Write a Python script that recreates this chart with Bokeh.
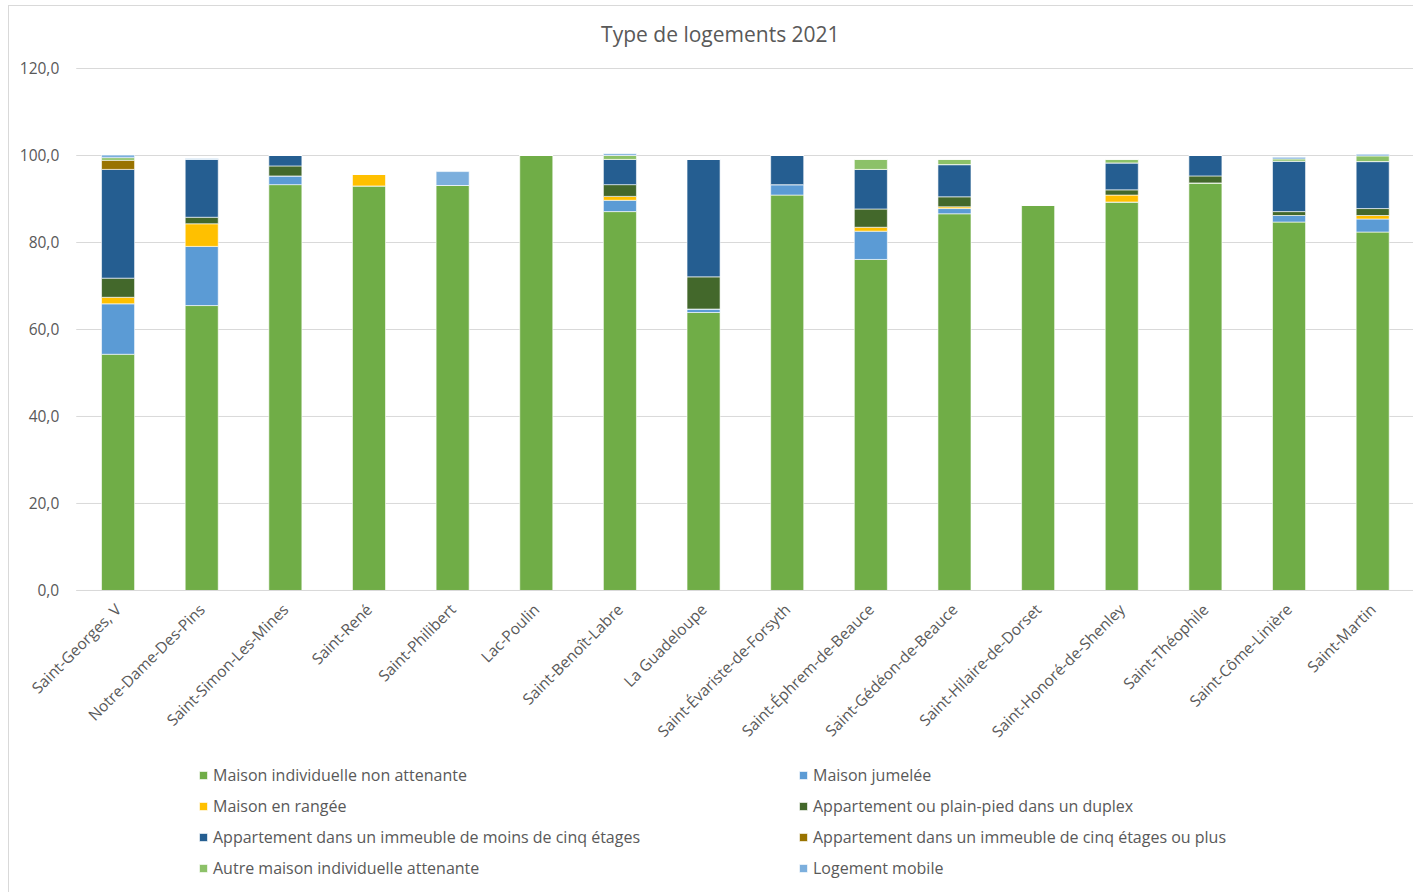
from math import pi
from bokeh.plotting import figure
from bokeh.models import Range1d, FixedTicker, CustomJSTickFormatter, Legend, LegendItem, Label
from bokeh.embed import file_html
from bokeh.resources import INLINE

municipalites = ["Saint-Georges, V", "Notre-Dame-Des-Pins", "Saint-Simon-Les-Mines", "Saint-René",
                 "Saint-Philibert", "Lac-Poulin", "Saint-Benoît-Labre", "La Guadeloupe",
                 "Saint-Évariste-de-Forsyth", "Saint-Éphrem-de-Beauce", "Saint-Gédéon-de-Beauce",
                 "Saint-Hilaire-de-Dorset", "Saint-Honoré-de-Shenley", "Saint-Théophile",
                 "Saint-Côme-Linière", "Saint-Martin"]

series_names = ["Maison individuelle non attenante", "Maison jumelée", "Maison en rangée",
                "Appartement ou plain-pied dans un duplex",
                "Appartement dans un immeuble de moins de cinq étages",
                "Appartement dans un immeuble de cinq étages ou plus",
                "Autre maison individuelle attenante", "Logement mobile"]

maison_non_attenante = [54.3, 65.5, 93.3, 93.0, 93.1, 100.0, 87.1, 63.9, 90.9, 76.1, 86.6, 88.6, 89.3, 93.7, 84.7, 82.4]
maison_jumelee       = [11.6, 13.6, 2.0, 0.0, 0.0, 0.0, 2.6, 0.8, 2.4, 6.5, 1.2, 0.0, 0.0, 0.0, 1.5, 3.0]
maison_rangee        = [1.5, 5.2, 0.0, 2.7, 0.0, 0.0, 0.9, 0.0, 0.0, 0.9, 0.4, 0.0, 1.6, 0.0, 0.0, 0.8]
app_duplex           = [4.4, 1.5, 2.3, 0.0, 0.0, 0.0, 2.7, 7.4, 0.0, 4.2, 2.3, 0.0, 1.2, 1.6, 0.9, 1.6]
app_moins_cinq       = [25.0, 13.3, 2.4, 0.0, 0.0, 0.0, 5.8, 27.0, 6.7, 9.1, 7.4, 0.0, 6.2, 4.7, 11.6, 10.8]
app_cinq_plus        = [2.1, 0.0, 0.0, 0.0, 0.0, 0.0, 0.0, 0.0, 0.0, 0.0, 0.0, 0.0, 0.0, 0.0, 0.0, 0.0]
autre_attenante      = [0.6, 0.0, 0.0, 0.0, 0.0, 0.0, 0.9, 0.0, 0.0, 2.3, 1.2, 0.0, 0.8, 0.0, 0.5, 1.3]
logement_mobile      = [0.6, 0.2, 0.0, 0.0, 3.2, 0.0, 0.4, 0.0, 0.0, 0.0, 0.0, 0.0, 0.0, 0.0, 0.4, 0.4]

y_ticks = [0, 20, 40, 60, 80, 100, 120]
titre = "Type de logements 2021"

colors = ["#70AD47", "#5B9BD5", "#FFC000", "#43682B", "#255E91", "#997300", "#8CC168", "#7CAFDD"]
keys = ["s0", "s1", "s2", "s3", "s4", "s5", "s6", "s7"]

n = len(municipalites)
positions = [i + 0.5 for i in range(n)]          # category slots on a numeric axis
data = dict(x=positions)
for k, arr in zip(keys, [maison_non_attenante, maison_jumelee, maison_rangee, app_duplex,
                         app_moins_cinq, app_cinq_plus, autre_attenante, logement_mobile]):
    data[k] = arr

FONT = "Open Sans"
GREY = "#595959"

# the frame covers the whole figure; axes are pinned inside it with fixed_location
p = figure(x_range=Range1d(-0.798, n), y_range=Range1d(-69.66, 134.25),
           width=1405, height=887, output_backend="svg", toolbar_location=None,
           min_border_left=0, min_border_right=0, min_border_top=0, min_border_bottom=0)
p.styles = {"margin-left": "8px", "margin-top": "5px",
            "border-left": "1px solid #D9D9D9", "border-top": "1px solid #D9D9D9"}

# horizontal gridlines limited to the category area
p.segment(x0=0, x1=n, y0=y_ticks, y1=y_ticks, line_color="#D9D9D9", line_width=1)

renderers = p.vbar_stack(keys, x="x", width=0.395, color=colors, source=data,
                         line_color="white", line_width=0.6)

p.add_layout(Label(x=n / 2, y=128.0, x_offset=-25, text=titre, text_align="center",
                   text_baseline="middle", text_font=FONT, text_font_size="21px",
                   text_color=GREY))

p.outline_line_color = None
p.background_fill_color = "white"
p.border_fill_color = "white"
p.xgrid.grid_line_color = None
p.ygrid.grid_line_color = None

p.yaxis.fixed_location = 0
p.yaxis.ticker = FixedTicker(ticks=y_ticks)
p.yaxis.formatter = CustomJSTickFormatter(code="return tick.toFixed(1).replace('.', ',');")
p.yaxis.axis_line_color = None
p.yaxis.major_tick_line_color = None
p.yaxis.minor_tick_line_color = None
p.yaxis.major_label_text_font = FONT
p.yaxis.major_label_text_font_size = "15.5px"
p.yaxis.major_label_text_color = GREY
p.yaxis.major_label_standoff = 11

p.xaxis.fixed_location = 0
p.xaxis.bounds = (0, n)
p.xaxis.ticker = FixedTicker(ticks=positions)
p.xaxis.major_label_overrides = {pos: name for pos, name in zip(positions, municipalites)}
p.xaxis.axis_line_color = "#D9D9D9"
p.xaxis.major_tick_line_color = None
p.xaxis.minor_tick_line_color = None
p.xaxis.major_label_orientation = pi / 4
p.xaxis.major_label_text_font = FONT
p.xaxis.major_label_text_font_size = "15.5px"
p.xaxis.major_label_text_color = GREY
p.xaxis.major_label_standoff = 10

# legend laid out column by column: left column first, then right column
order = [0, 2, 4, 6, 1, 3, 5, 7]
items = [LegendItem(label=series_names[i], renderers=[renderers[i]]) for i in order]
legend = Legend(items=items, ncols=2, location=(189, 14),
                label_text_font=FONT, label_text_font_size="16px", label_text_color=GREY,
                glyph_width=10, glyph_height=10, label_standoff=5, label_width=576,
                label_height=20, spacing=9, padding=0, margin=0,
                border_line_color=None, background_fill_alpha=0)
p.add_layout(legend, "center")

open("out.html", "w").write(file_html(p, INLINE))
